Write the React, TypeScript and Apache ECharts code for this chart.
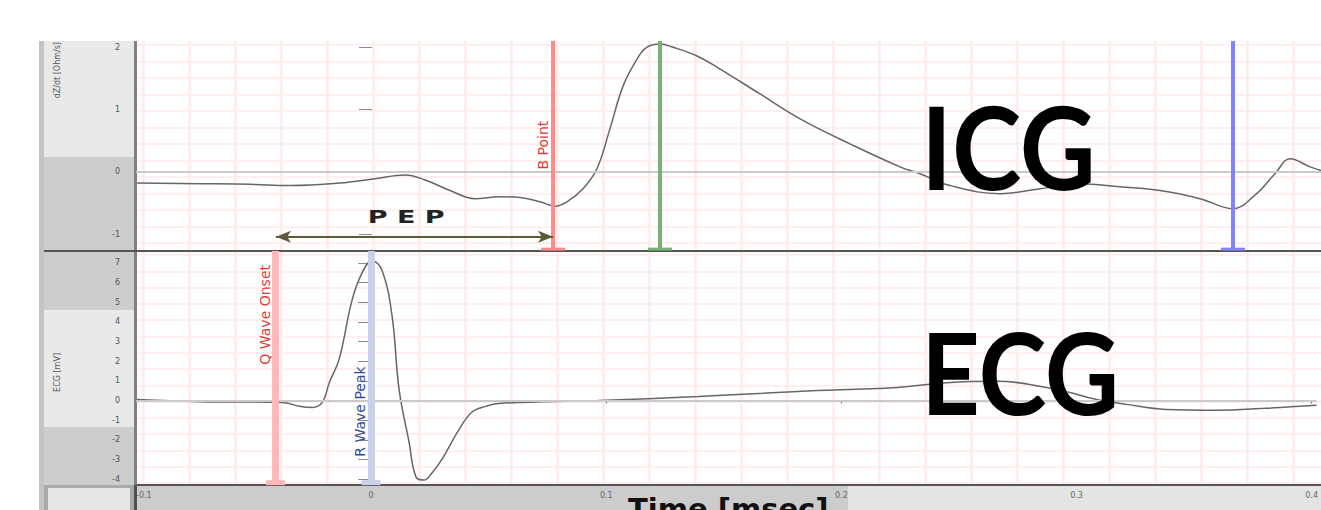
import React, { useEffect, useRef } from "react";
import * as echarts from "echarts";

// ---------- data (time in s) ----------
const icgTime = [
  -0.0996, -0.0729, -0.0517, -0.0347, -0.0136, 0.0013, 0.014, 0.0225, 0.0331, 0.0436,
  0.0542, 0.0627, 0.0712, 0.0775, 0.0826, 0.0894, 0.0953, 0.1008, 0.1064, 0.1123,
  0.1165, 0.122, 0.1275, 0.1377, 0.1475, 0.1644, 0.1814, 0.2025, 0.2237, 0.2322,
  0.2449, 0.2661, 0.2831, 0.3, 0.3169, 0.3339, 0.3508, 0.3648, 0.3742, 0.3826,
  0.389, 0.3975, 0.4021,
];
const icgValue = [
  -0.18, -0.19, -0.2, -0.22, -0.18, -0.11, -0.05, -0.13, -0.3, -0.43,
  -0.4, -0.41, -0.48, -0.55, -0.48, -0.27, 0.05, 0.69, 1.38, 1.81,
  2.0, 2.05, 2.0, 1.86, 1.65, 1.25, 0.85, 0.45, 0.08, -0.03,
  -0.22, -0.35, -0.27, -0.19, -0.24, -0.3, -0.43, -0.59, -0.37, -0.03,
  0.21, 0.08, 0.02,
];
const ecgTime = [
  -0.0996, -0.0729, -0.0377, -0.0305, -0.025, -0.0208, -0.0178, -0.0136, -0.0081, -0.0038,
  0.0004, 0.0047, 0.0089, 0.0119, 0.0161, 0.0191, 0.0225, 0.0258, 0.0301, 0.0373,
  0.0428, 0.0487, 0.0542, 0.0966, 0.139, 0.1814, 0.2237, 0.2449, 0.2661, 0.2915,
  0.3085, 0.3212, 0.3381, 0.3593, 0.3805, 0.4021,
];
const ecgValue = [
  0.05, -0.06, -0.1, -0.3, -0.36, -0.1, 0.9, 2.1, 5.1, 6.5,
  7.1, 6.6, 4.3, 0.55, -2.1, -3.9, -4.05, -3.7, -3.0, -1.5,
  -0.6, -0.3, -0.15, 0.0, 0.2, 0.46, 0.66, 0.9, 0.97, 0.56,
  0.05, -0.2, -0.46, -0.5, -0.4, -0.25,
];

const xTicks = [-0.1, 0, 0.1, 0.2, 0.3, 0.4];
const icgTicks = [-1, 0, 1, 2];
const ecgTicks = [-4, -3, -2, -1, 0, 1, 2, 3, 4, 5, 6, 7];

const icgMarkers = [
  { name: "B Point", t: 0.0767, color: "#ff8a8a", cap: "#ff7a7a", width: 4, label: true, labelColor: "#dd3b3b", pos: "insideMiddleTop", dist: [-10, 3] },
  { name: "C Point", t: 0.122, color: "#78b078", cap: "#6aa86a", width: 4, label: false, labelColor: "#3a8a3a", pos: "insideMiddleTop", dist: [0, 3] },
  { name: "X Point", t: 0.3648, color: "#8282ff", cap: "#7070ff", width: 4, label: false, labelColor: "#3a3aff", pos: "insideMiddleTop", dist: [0, 3] },
];
const ecgMarkers = [
  { name: "Q Wave Onset", t: -0.0407, color: "#ffb9b9", cap: "#ff8080", width: 7, label: true, labelColor: "#dd3b3b", pos: "insideEndTop", dist: [14, 3] },
  { name: "R Wave Peak", t: 0.0, color: "#c9d0e8", cap: "#4477c4", width: 7, label: true, labelColor: "#2f4c94", pos: "insideStartTop", dist: [26, 4] },
];
const pepStart = -0.0407;
const pepEnd = 0.0767;
const pepLevel = -1.04;
const pepLabelT = 0.0145;
const pepLabelLevel = -0.72;

const X_MIN = -0.1;
const X_MAX = 0.4021;
const ICG_MIN = -1.27;
const ICG_MAX = 2.1;
const ECG_MIN = -4.3;
const ECG_MAX = 7.6;

const fmtX = (v: number) => {
  const r = Math.round(v * 10) / 10;
  return r === 0 ? "0" : String(r);
};

export default function App() {
  const ref = useRef<HTMLDivElement>(null);

  useEffect(() => {
    const chart = echarts.init(ref.current!, null, { renderer: "svg" });

    const icgData = icgTime.map((t, i) => [t, icgValue[i]]);
    const ecgData = ecgTime.map((t, i) => [t, ecgValue[i]]);

    const zeroLine = (y: number) => ({
      yAxis: y,
      symbol: "none",
      lineStyle: { color: "#cacaca", width: 2, type: "solid" },
      label: { show: false },
    });

    const markerLine = (m: any, lo: number, hi: number, capW: number, capH: number, fontSize: number) => [
      {
        coord: [m.t, lo],
        symbol: "rect",
        symbolSize: [capW, capH],
        itemStyle: { color: m.cap },
        lineStyle: { color: m.color, width: m.width, type: "solid", opacity: 1 },
        label: {
          show: m.label,
          position: m.pos,
          formatter: m.name,
          color: m.labelColor,
          fontSize,
          fontFamily: "DejaVu Sans",
          distance: m.dist,
        },
      },
      { coord: [m.t, hi], symbol: "none" },
    ];

    const axisLabelStyle = { fontSize: 8, color: "#555", fontFamily: "DejaVu Sans" };

    const graphics: any[] = [
      // left strip & panels
      { type: "rect", shape: { x: 39, y: 41, width: 5, height: 469 }, style: { fill: "#c4c4c4" } },
      { type: "rect", shape: { x: 44, y: 41, width: 90, height: 116 }, style: { fill: "#e9e9e9" } },
      { type: "rect", shape: { x: 44, y: 157, width: 90, height: 94 }, style: { fill: "#cdcdcd" } },
      { type: "rect", shape: { x: 44, y: 251, width: 90, height: 59 }, style: { fill: "#cdcdcd" } },
      { type: "rect", shape: { x: 44, y: 310, width: 90, height: 117 }, style: { fill: "#e9e9e9" } },
      { type: "rect", shape: { x: 44, y: 427, width: 90, height: 58 }, style: { fill: "#cdcdcd" } },
      { type: "rect", shape: { x: 44, y: 485, width: 90, height: 25 }, style: { fill: "#a9a9a9" } },
      { type: "rect", shape: { x: 48, y: 488, width: 82, height: 22 }, style: { fill: "#e6e6e6" } },
      // x-axis area
      { type: "rect", shape: { x: 137, y: 486, width: 711, height: 24 }, style: { fill: "#cccccc" } },
      { type: "rect", shape: { x: 848, y: 486, width: 473, height: 24 }, style: { fill: "#e4e4e4" } },
      // axis lines
      { type: "rect", shape: { x: 134, y: 41, width: 3, height: 444 }, style: { fill: "#808080" }, z: 5 },
      { type: "rect", shape: { x: 134, y: 485, width: 3, height: 25 }, style: { fill: "#505050" }, z: 5 },
      { type: "rect", shape: { x: 44, y: 250, width: 1277, height: 2 }, style: { fill: "#555555" }, z: 5 },
      { type: "rect", shape: { x: 137, y: 484, width: 1184, height: 2 }, style: { fill: "#555555" }, z: 5 },
      // axis names
      {
        type: "text", x: 57, y: 42, rotation: Math.PI / 2,
        style: { text: "dZ/dt [Ohm/s]", fontSize: 8, fontFamily: "DejaVu Sans", fill: "#555", align: "right", verticalAlign: "middle" },
      },
      {
        type: "text", x: 57, y: 353, rotation: Math.PI / 2,
        style: { text: "ECG [mV]", fontSize: 8, fontFamily: "DejaVu Sans", fill: "#555", align: "right", verticalAlign: "middle" },
      },
      // big titles
      {
        type: "text", x: 921, y: 146, scaleX: 0.92, z: 100,
        style: { text: "ICG", fontSize: 114, fontWeight: "bold", fontFamily: "Lato", fill: "#000", align: "left", verticalAlign: "middle" },
      },
      {
        type: "text", x: 921, y: 371, scaleX: 0.9, z: 100,
        style: { text: "ECG", fontSize: 114, fontWeight: "bold", fontFamily: "Lato", fill: "#000", align: "left", verticalAlign: "middle" },
      },
      {
        type: "text", x: 628, y: 509, z: 100,
        style: { text: "Time [msec]", fontSize: 29, fontWeight: "bold", fontFamily: "DejaVu Sans", fill: "#111", align: "left", verticalAlign: "middle" },
      },
    ];

    const option: any = {
      animation: false,
      backgroundColor: "#ffffff",
      grid: [
        { left: 136, width: 1185, top: 41, height: 210 },
        { left: 136, width: 1185, top: 251, height: 234 },
        { left: 143, width: 1150, top: 41, height: 444 },
        { left: 136, width: 1185, top: 45, height: 198 },
        { left: 136, width: 1185, top: 255, height: 228 },
      ],
      xAxis: [
        { type: "value", gridIndex: 0, min: X_MIN, max: X_MAX, show: false },
        {
          type: "value", gridIndex: 1, min: X_MIN, max: X_MAX,
          axisLine: { show: false },
          axisTick: { show: true, customValues: xTicks, length: 3, lineStyle: { color: "#666" } },
          axisLabel: { customValues: xTicks, formatter: fmtX, fontSize: 8, color: "#666", margin: 6, fontFamily: "DejaVu Sans", alignMinLabel: "left" },
          splitLine: { show: false },
        },
        {
          type: "value", gridIndex: 2, min: 0, max: 25, interval: 1,
          axisLine: { show: false }, axisTick: { show: false }, axisLabel: { show: false },
          splitLine: { show: true, lineStyle: { color: "#ffebeb", width: 2.5 } },
        },
        { type: "value", gridIndex: 3, min: 0, max: 1, show: false },
        { type: "value", gridIndex: 4, min: 0, max: 1, show: false },
      ],
      yAxis: [
        {
          type: "value", gridIndex: 0, min: ICG_MIN, max: ICG_MAX,
          axisLine: { show: false },
          axisTick: { show: true, customValues: icgTicks, length: 13, lineStyle: { color: "#8a8a8a" } },
          axisLabel: { customValues: icgTicks, margin: 16, ...axisLabelStyle },
          splitLine: { show: false },
        },
        {
          type: "value", gridIndex: 1, min: ECG_MIN, max: ECG_MAX,
          axisLine: { show: false },
          axisTick: { show: true, customValues: ecgTicks, length: 13, lineStyle: { color: "#8a8a8a" } },
          axisLabel: { customValues: ecgTicks, margin: 16, ...axisLabelStyle },
          splitLine: { show: false },
        },
        { type: "value", gridIndex: 2, min: 0, max: 1, show: false },
        {
          type: "value", gridIndex: 3, min: 0, max: 12, interval: 1,
          axisLine: { show: false }, axisTick: { show: false }, axisLabel: { show: false },
          splitLine: { show: true, lineStyle: { color: "#ffeaea", width: 1.5 } },
        },
        {
          type: "value", gridIndex: 4, min: 0, max: 14, interval: 1,
          axisLine: { show: false }, axisTick: { show: false }, axisLabel: { show: false },
          splitLine: { show: true, lineStyle: { color: "#ffeaea", width: 1.5 } },
        },
      ],
      series: [
        {
          name: "ICG", type: "line", xAxisIndex: 0, yAxisIndex: 0,
          data: icgData, smooth: 0.4, symbol: "none",
          lineStyle: { color: "#666666", width: 1.5 },
          z: 3,
          markLine: {
            silent: true, animation: false, symbol: ["none", "none"],
            data: [
              zeroLine(0),
              ...icgMarkers.map((m) => markerLine(m, ICG_MIN + 0.03, ICG_MAX, 24, 3, 14)),
              [
                { coord: [pepStart, pepLevel], symbol: "arrow", symbolSize: [9, 15], itemStyle: { color: "#55532f" }, lineStyle: { color: "#5c5a38", width: 2, type: "solid" }, label: { show: false } },
                { coord: [pepEnd, pepLevel], symbol: "arrow", symbolSize: [9, 15] },
              ],
            ],
          },
        },
        {
          name: "ECG", type: "line", xAxisIndex: 1, yAxisIndex: 1,
          data: ecgData, smooth: 0.4, symbol: "none",
          lineStyle: { color: "#666666", width: 1.5 },
          z: 3,
          markLine: {
            silent: true, animation: false, symbol: ["none", "none"],
            data: [
              zeroLine(0),
              ...ecgMarkers.map((m) => markerLine(m, ECG_MIN + 0.12, ECG_MAX, 19, 5, 14)),
            ],
          },
        },
      ],
      graphic: { elements: graphics },
    };

    chart.setOption(option);

    const p = chart.convertToPixel({ xAxisIndex: 0, yAxisIndex: 0 }, [pepLabelT, pepLabelLevel]) as number[];
    if (p && isFinite(p[0])) {
      chart.setOption({
        graphic: {
          elements: [
            ...graphics,
            {
              type: "text", x: p[0], y: p[1], scaleX: 1.5, z: 100,
              style: { text: "P E P", fontSize: 18, fontWeight: "bold", fontFamily: "DejaVu Sans", fill: "#222", align: "center", verticalAlign: "middle" },
            },
          ],
        },
      });
    }

    return () => chart.dispose();
  }, []);

  return <div ref={ref} style={{ position: "fixed", left: 0, top: 0, width: 1321, height: 510 }} />;
}
